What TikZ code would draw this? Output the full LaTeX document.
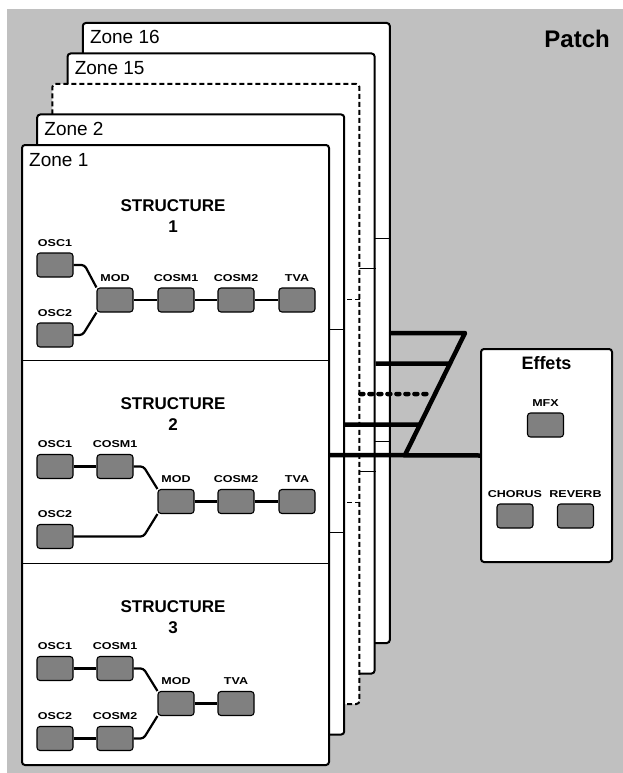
\documentclass[tikz,border=0pt]{standalone}
\usepackage{fontspec}
\setmainfont{Liberation Sans}
\newfontfamily\widefont[FakeStretch=1.25]{Liberation Sans Bold}
\usetikzlibrary{positioning}

\definecolor{patchgray}{RGB}{192,192,192}
\definecolor{unitgray}{RGB}{128,128,128}

\begin{document}
\begin{tikzpicture}[x=1pt, y=-1pt,
    zone/.style={draw, line width=2pt, fill=white, rounded corners=3pt, inner sep=0pt,
                 minimum width=307pt, minimum height=620pt},
    zonelbl/.style={anchor=base west, inner sep=0pt, font=\fontsize{19}{19}\selectfont},
    divider/.style={line width=0.8pt},
    unit/.style={draw, line width=1.1pt, fill=unitgray, rounded corners=3pt, inner sep=0pt,
                 minimum width=36pt, minimum height=24pt},
    unitlbl/.style={inner sep=0pt, font=\widefont\fontsize{10}{10}\selectfont},
    title/.style={align=center, inner sep=0pt, font=\bfseries\fontsize{17}{21}\selectfont},
    wire/.style={line width=2.2pt, rounded corners=3pt},
    bus/.style={line width=4.5pt, line join=round},
    dotbus/.style={bus, dash pattern=on 3pt off 6pt, line cap=round}]

    \useasboundingbox (0,0) rectangle (623,773);
    \fill[patchgray] (7,9) rectangle (623,773);

    \node[font=\bfseries\fontsize{24}{24}\selectfont, anchor=base east, inner sep=0pt] (patch) at (610,48) {Patch};

    % zones, back to front
    \node[zone] (zone16) at (236.3,333) {};
    \draw[divider] ([yshift=95pt]zone16.west) -- ([yshift=95pt]zone16.east);
    \draw[divider] ([yshift=-108pt]zone16.west) -- ([yshift=-108pt]zone16.east);
    \node[zonelbl] (lbl16) at ([xshift=8pt,yshift=-22pt]zone16.north west) {Zone 16};

    \node[zone] (zone15) at (221.1,363.5) {};
    \draw[divider] ([yshift=95pt]zone15.west) -- ([yshift=95pt]zone15.east);
    \draw[divider] ([yshift=-108pt]zone15.west) -- ([yshift=-108pt]zone15.east);
    \node[zonelbl] (lbl15) at ([xshift=8pt,yshift=-22pt]zone15.north west) {Zone 15};

    \node[zone, dash pattern=on 5pt off 3pt] (zonedots) at (205.9,394) {};
    \draw[divider, dash pattern=on 5pt off 3pt] ([yshift=95pt]zonedots.west) -- ([yshift=95pt]zonedots.east);
    \draw[divider, dash pattern=on 5pt off 3pt] ([yshift=-108pt]zonedots.west) -- ([yshift=-108pt]zonedots.east);

    \node[zone] (zone2) at (190.7,424.5) {};
    \draw[divider] ([yshift=95pt]zone2.west) -- ([yshift=95pt]zone2.east);
    \draw[divider] ([yshift=-108pt]zone2.west) -- ([yshift=-108pt]zone2.east);
    \node[zonelbl] (lbl2) at ([xshift=8pt,yshift=-22pt]zone2.north west) {Zone 2};

    \node[zone] (zone1) at (175.5,455) {};
    \draw[divider] ([yshift=95pt]zone1.west) -- ([yshift=95pt]zone1.east);
    \draw[divider] ([yshift=-108pt]zone1.west) -- ([yshift=-108pt]zone1.east);
    \node[zonelbl] (lbl1) at ([xshift=8pt,yshift=-22pt]zone1.north west) {Zone 1};

    % structure 1
    \node[title] (st1) at (173,216) {STRUCTURE\\1};
    \node[unit] (osc1a) at (55,265) {};
    \node[unit] (osc2a) at (55,335) {};
    \node[unit] (mod1) at (115,300) {};
    \node[unit] (cosm1a) at (176,300) {};
    \node[unit] (cosm2a) at (236,300) {};
    \node[unit] (tva1) at (297,300) {};
    \node[unitlbl, above=6pt of osc1a] (osc1aL) {OSC1};
    \node[unitlbl, above=6pt of osc2a] (osc2aL) {OSC2};
    \node[unitlbl, above=6pt of mod1] (mod1L) {MOD};
    \node[unitlbl, above=6pt of cosm1a] (cosm1aL) {COSM1};
    \node[unitlbl, above=6pt of cosm2a] (cosm2aL) {COSM2};
    \node[unitlbl, above=6pt of tva1] (tva1L) {TVA};
    \draw[wire] (osc1a.east) -- ++(11,0) -- (mod1.north west);
    \draw[wire] (osc2a.east) -- ++(9,0) -- (mod1.south west);
    \draw[wire] (mod1) -- (cosm1a);
    \draw[wire] (cosm1a) -- (cosm2a);
    \draw[wire] (cosm2a) -- (tva1);

    % structure 2
    \node[title] (st2) at (173,414) {STRUCTURE\\2};
    \node[unit] (osc1b) at (55,466.5) {};
    \node[unit] (cosm1b) at (115,466.5) {};
    \node[unit] (osc2b) at (55,536.5) {};
    \node[unit] (mod2) at (176,501.5) {};
    \node[unit] (cosm2b) at (236,501.5) {};
    \node[unit] (tva2) at (297,501.5) {};
    \node[unitlbl, above=6pt of osc1b] (osc1bL) {OSC1};
    \node[unitlbl, above=6pt of cosm1b] (cosm1bL) {COSM1};
    \node[unitlbl, above=6pt of osc2b] (osc2bL) {OSC2};
    \node[unitlbl, above=6pt of mod2] (mod2L) {MOD};
    \node[unitlbl, above=6pt of cosm2b] (cosm2bL) {COSM2};
    \node[unitlbl, above=6pt of tva2] (tva2L) {TVA};
    \draw[wire] (osc1b) -- (cosm1b);
    \draw[wire] (cosm1b.east) -- ++(10,0) -- (mod2.north west);
    \draw[wire] (osc2b.east) -- ++(70,0) -- (mod2.south west);
    \draw[wire] (mod2) -- (cosm2b);
    \draw[wire] (cosm2b) -- (tva2);

    % structure 3
    \node[title] (st3) at (173,617) {STRUCTURE\\3};
    \node[unit] (osc1c) at (55,668.5) {};
    \node[unit] (cosm1c) at (115,668.5) {};
    \node[unit] (osc2c) at (55,738.5) {};
    \node[unit] (cosm2c) at (115,738.5) {};
    \node[unit] (mod3) at (176,703.5) {};
    \node[unit] (tva3) at (236,703.5) {};
    \node[unitlbl, above=6pt of osc1c] (osc1cL) {OSC1};
    \node[unitlbl, above=6pt of cosm1c] (cosm1cL) {COSM1};
    \node[unitlbl, above=6pt of osc2c] (osc2cL) {OSC2};
    \node[unitlbl, above=6pt of cosm2c] (cosm2cL) {COSM2};
    \node[unitlbl, above=6pt of mod3] (mod3L) {MOD};
    \node[unitlbl, above=6pt of tva3] (tva3L) {TVA};
    \draw[wire] (osc1c) -- (cosm1c);
    \draw[wire] (osc2c) -- (cosm2c);
    \draw[wire] (cosm1c.east) -- ++(10,0) -- (mod3.north west);
    \draw[wire] (cosm2c.east) -- ++(10,0) -- (mod3.south west);
    \draw[wire] (mod3) -- (tva3);

    % effects
    \node[draw, line width=2pt, fill=white, rounded corners=3pt, inner sep=0pt,
          minimum width=131pt, minimum height=213pt] (effets) at (546.5,455.5) {};
    \node[font=\bfseries\fontsize{18}{18}\selectfont, anchor=base, inner sep=0pt] (effetsT)
        at ([yshift=-21pt]effets.north) {Effets};
    \node[unit] (mfx) at (545.5,425) {};
    \node[unit] (chorus) at (515,516) {};
    \node[unit] (reverb) at (575.5,516) {};
    \node[unitlbl, above=6pt of mfx] (mfxL) {MFX};
    \node[unitlbl, above=6pt of chorus] (chorusL) {CHORUS};
    \node[unitlbl, above=6pt of reverb] (reverbL) {REVERB};

    % bus to effects
    \coordinate (bustop) at (465,333);
    \coordinate (busbot) at (405,455);
    \coordinate (fx15) at (zone15.east -| effets.west);
    \coordinate (fxdots) at (zonedots.east -| effets.west);
    \coordinate (fx2) at (zone2.east -| effets.west);
    \coordinate (x15) at (intersection of zone15.east--fx15 and bustop--busbot);
    \coordinate (xdots) at (intersection of zonedots.east--fxdots and bustop--busbot);
    \coordinate (x2) at (intersection of zone2.east--fx2 and bustop--busbot);
    \draw[bus] (zone16.east) -- (bustop) -- (busbot);
    \draw[bus] (zone15.east) -- (x15);
    \draw[dotbus] (zonedots.east) -- ([xshift=-5pt]xdots);
    \draw[bus] (zone2.east) -- (x2);
    \draw[bus] (zone1.east) -- (effets.west);
\end{tikzpicture}
\end{document}
